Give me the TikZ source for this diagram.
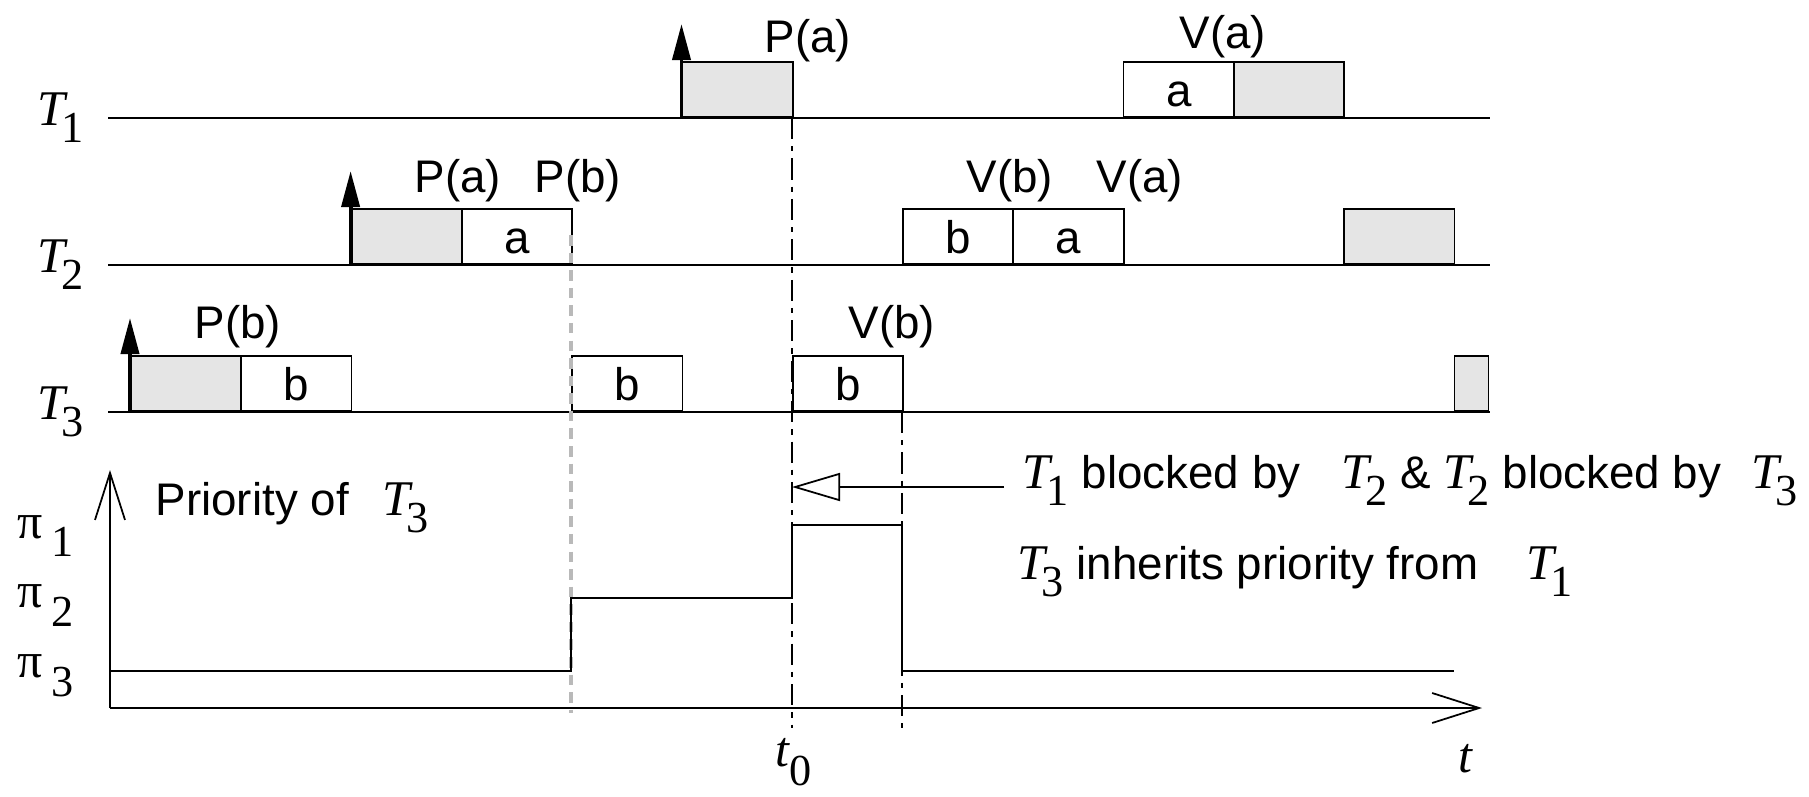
\documentclass[tikz,border=0pt]{standalone}
\usepackage{fontspec}
\setmainfont{Liberation Sans}
\newfontfamily\serfam{Liberation Serif}
\usetikzlibrary{arrows.meta,positioning}
\newcommand{\serT}{\serfam\fontsize{14.2}{16}\selectfont}
\newcommand{\serS}{\serfam\fontsize{12.6}{14}\selectfont}
\newcommand{\tsk}[2]{{\serT\itshape #1}\kern-1pt\raisebox{-5pt}{\serS #2}}
\newcommand{\prio}[1]{{\serT π}\hspace{2.5pt}\raisebox{-5.4pt}{\serS #1}}
\newcommand{\kx}[1]{130+110.3*#1}

\begin{document}
\begin{tikzpicture}[x=0.01cm, y=-0.01cm,
    font=\fontsize{13}{15}\selectfont,
    slot/.style={draw, line width=0.5pt, anchor=south west, inner sep=0pt, minimum width=1.103cm, minimum height=0.55cm, text height=0.33cm, text depth=0pt},
    busy/.style={slot, fill=gray!20},
    timeline/.style={line width=0.6pt},
    release/.style={line width=1.1pt, -{Triangle[length=3.6mm, width=1.8mm]}},
    axis/.style={line width=0.5pt, -{Straight Barb[length=4.7mm, width=3mm]}},
    evt/.style={anchor=base, inner sep=0pt},
    lbl/.style={anchor=base west, inner sep=0pt},
    >=Stealth
  ]
    \useasboundingbox (0,0) rectangle (1809,797);

    % time lines of the three tasks
    \draw[timeline] (108,118) -- (1490,118);
    \draw[timeline] (108,265) -- (1490,265);
    \draw[timeline] (108,412) -- (1490,412);
    \node[lbl] (T1) at (37,125) {\tsk{T}{1}};
    \node[lbl] (T2) at (37,272) {\tsk{T}{2}};
    \node[lbl] (T3) at (37,419) {\tsk{T}{3}};

    % T1
    \node[busy] (g1) at ({\kx{5}},118) {};
    \node[slot] (a1) at ({\kx{9}},118) {a};
    \node[busy] (g1b) at ({\kx{10}},118) {};
    % T2
    \node[busy] (g2) at ({\kx{2}},265) {};
    \node[slot] (a2) at ({\kx{3}},265) {a};
    \node[slot] (b2) at ({\kx{7}},265) {b};
    \node[slot] (a2b) at ({\kx{8}},265) {a};
    \node[busy] (g2b) at ({\kx{11}},265) {};
    % T3
    \node[busy] (g3) at ({\kx{0}},412) {};
    \node[slot] (b3) at ({\kx{1}},412) {b};
    \node[slot] (b3b) at ({\kx{4}},412) {b};
    \node[slot] (b3c) at ({\kx{6}},412) {b};
    \node[busy, minimum width=0.34cm] (g3b) at ({\kx{12}},412) {};

    % releases
    \draw[release] (g1.south west) -- ++(0,-94);
    \draw[release] (g2.south west) -- ++(0,-94);
    \draw[release] (g3.south west) -- ++(0,-94);

    % semaphore operations
    \node[evt] (pa1) at (808,52) {P(a)};
    \node[evt] (va1) at (1223,48) {V(a)};
    \node[evt] (pa2) at (458,192) {P(a)};
    \node[evt] (pb2) at (578,192) {P(b)};
    \node[evt] (vb2) at (1010,192) {V(b)};
    \node[evt] (va2) at (1140,192) {V(a)};
    \node[evt] (pb3) at (238,338) {P(b)};
    \node[evt] (vb3) at (892,338) {V(b)};

    % guide lines
    \draw[gray!55, line width=1.1pt, dash pattern=on 3pt off 2pt] (571,235) -- (571,713);
    \draw[line width=0.5pt, dash pattern=on 6pt off 2pt on 1.5pt off 2pt] (792,118) -- (792,728);
    \draw[line width=0.5pt, dash pattern=on 6pt off 2pt on 1.5pt off 2pt] (902,412) -- (902,728);

    % priority of T3
    \coordinate (o) at (110,708);
    \draw[axis] (o) -- (110,470);
    \draw[axis] (o) -- (1482,708);
    \draw[line width=0.5pt] (110,671) -- (571,671) -- (571,598) -- (792,598)
      -- (792,525) -- (902,525) -- (902,671) -- (1454,671);
    \node[lbl] (p1) at (17,538) {\prio{1}};
    \node[lbl] (p2) at (17,607) {\prio{2}};
    \node[lbl] (p3) at (17,677) {\prio{3}};
    \node[lbl] (ylab) at (155,515) {Priority of\hspace{6pt} \tsk{T}{3}};
    \node[lbl] (t0) at (775,766) {{\serT\itshape t}\raisebox{-5.5pt}{\serS 0}};
    \node[evt] (tt) at (1465,772) {\serT\itshape t};

    % blocking note
    \coordinate (blk) at (1004,487);
    \coordinate (tz) at (792,487);
    \draw[line width=0.5pt, -{Triangle[open, length=4.8mm, width=2.8mm]}] (blk) -- (tz);
    \node[lbl] (note1) at (1022,488) {\tsk{T}{1} blocked by\hspace{8pt} \tsk{T}{2} \& \tsk{T}{2} blocked by\hspace{5pt} \tsk{T}{3}};
    \node[lbl] (note2) at (1017,579) {\tsk{T}{3} inherits priority from\hspace{10pt} \tsk{T}{1}};
  \end{tikzpicture}
\end{document}
